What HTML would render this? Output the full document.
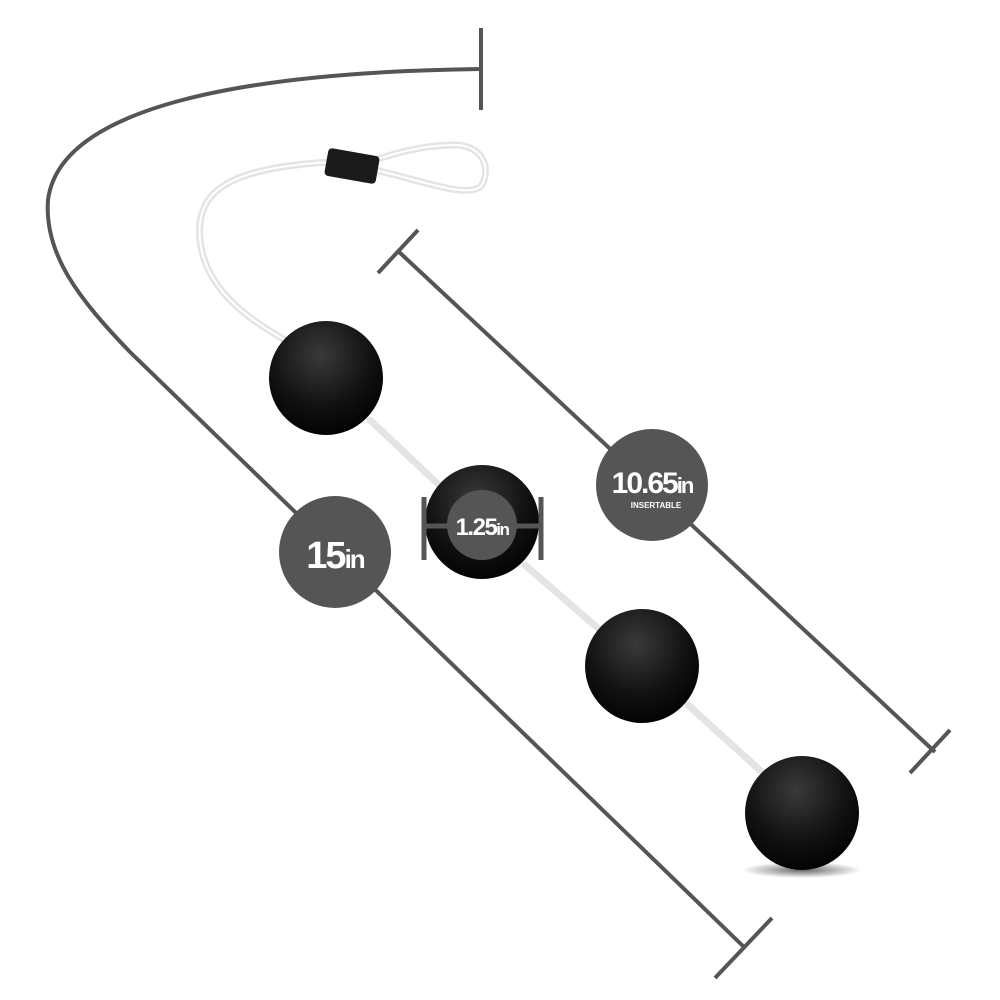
<!DOCTYPE html>
<html><head><style>body{margin:0;background:#fff}svg{display:block}text{font-family:"Liberation Sans",sans-serif;fill:#fff}</style></head><body>
<svg width="1000" height="1000" viewBox="0 0 1000 1000">
<defs>
<radialGradient id="b" cx="0.45" cy="0.3" r="0.75"><stop offset="0" stop-color="#3a3a3a"/><stop offset="0.6" stop-color="#111"/><stop offset="1" stop-color="#000"/></radialGradient>
<radialGradient id="sh" cx="0.5" cy="0.5" r="0.5"><stop offset="0" stop-color="#000" stop-opacity="0.6"/><stop offset="1" stop-color="#000" stop-opacity="0"/></radialGradient>
</defs>
<g stroke="#555" stroke-width="4" fill="none">
<path d="M481,69 C 250,72 60,105 48,200 C 44,255 80,300 130,352 L 745,948"/>
<line x1="481" y1="28" x2="481" y2="110"/>
<line x1="715" y1="978" x2="772" y2="918"/>
<line x1="398" y1="251" x2="935" y2="752"/>
<line x1="378" y1="273" x2="418" y2="230"/>
<line x1="910" y1="773" x2="950" y2="730"/>
</g>
<g stroke="#e4e4e4" stroke-width="7" fill="none" stroke-linecap="round">
<path d="M330,162 C 230,168 195,190 200,240 C 205,290 250,320 285,340"/>
<path d="M375,170 C 420,180 470,200 482,185 C 492,165 480,145 455,145 C 420,145 390,155 375,160"/>
<line x1="370" y1="420" x2="440" y2="486"/>
<line x1="525" y1="565" x2="600" y2="630"/>
<line x1="688" y1="705" x2="762" y2="772"/>
</g>
<g stroke="#fff" stroke-width="2" fill="none">
<path d="M330,162 C 230,168 195,190 200,240 C 205,290 250,320 285,340"/>
<path d="M375,170 C 420,180 470,200 482,185 C 492,165 480,145 455,145 C 420,145 390,155 375,160"/>
</g>
<rect x="326" y="152" width="52" height="28" rx="4" fill="#1a1a1a" transform="rotate(10 352 166)"/>
<ellipse cx="802" cy="870" rx="60" ry="8" fill="url(#sh)"/>
<circle cx="326" cy="378" r="57" fill="url(#b)"/>
<circle cx="482" cy="522" r="57" fill="url(#b)"/>
<circle cx="642" cy="666" r="57" fill="url(#b)"/>
<circle cx="802" cy="813" r="57" fill="url(#b)"/>
<circle cx="482" cy="525" r="35" fill="#555"/>
<g stroke="#555" stroke-width="5"><line x1="424" y1="526" x2="541" y2="526"/><line x1="424" y1="497" x2="424" y2="560"/><line x1="541" y1="497" x2="541" y2="560"/></g>
<circle cx="335" cy="552" r="56" fill="#555"/>
<circle cx="652" cy="485" r="56" fill="#555"/>
<text x="335" y="568" text-anchor="middle" font-size="38" font-weight="bold" letter-spacing="-2">15<tspan font-size="26">in</tspan></text>
<text x="652" y="493" text-anchor="middle" font-size="30" font-weight="bold" letter-spacing="-2">10.65<tspan font-size="22">in</tspan></text>
<text x="656" y="508" text-anchor="middle" font-size="8" font-weight="bold">INSERTABLE</text>
<text x="482" y="535" text-anchor="middle" font-size="24" font-weight="bold" letter-spacing="-1.5">1.25<tspan font-size="17">in</tspan></text>
</svg>
</body></html>
